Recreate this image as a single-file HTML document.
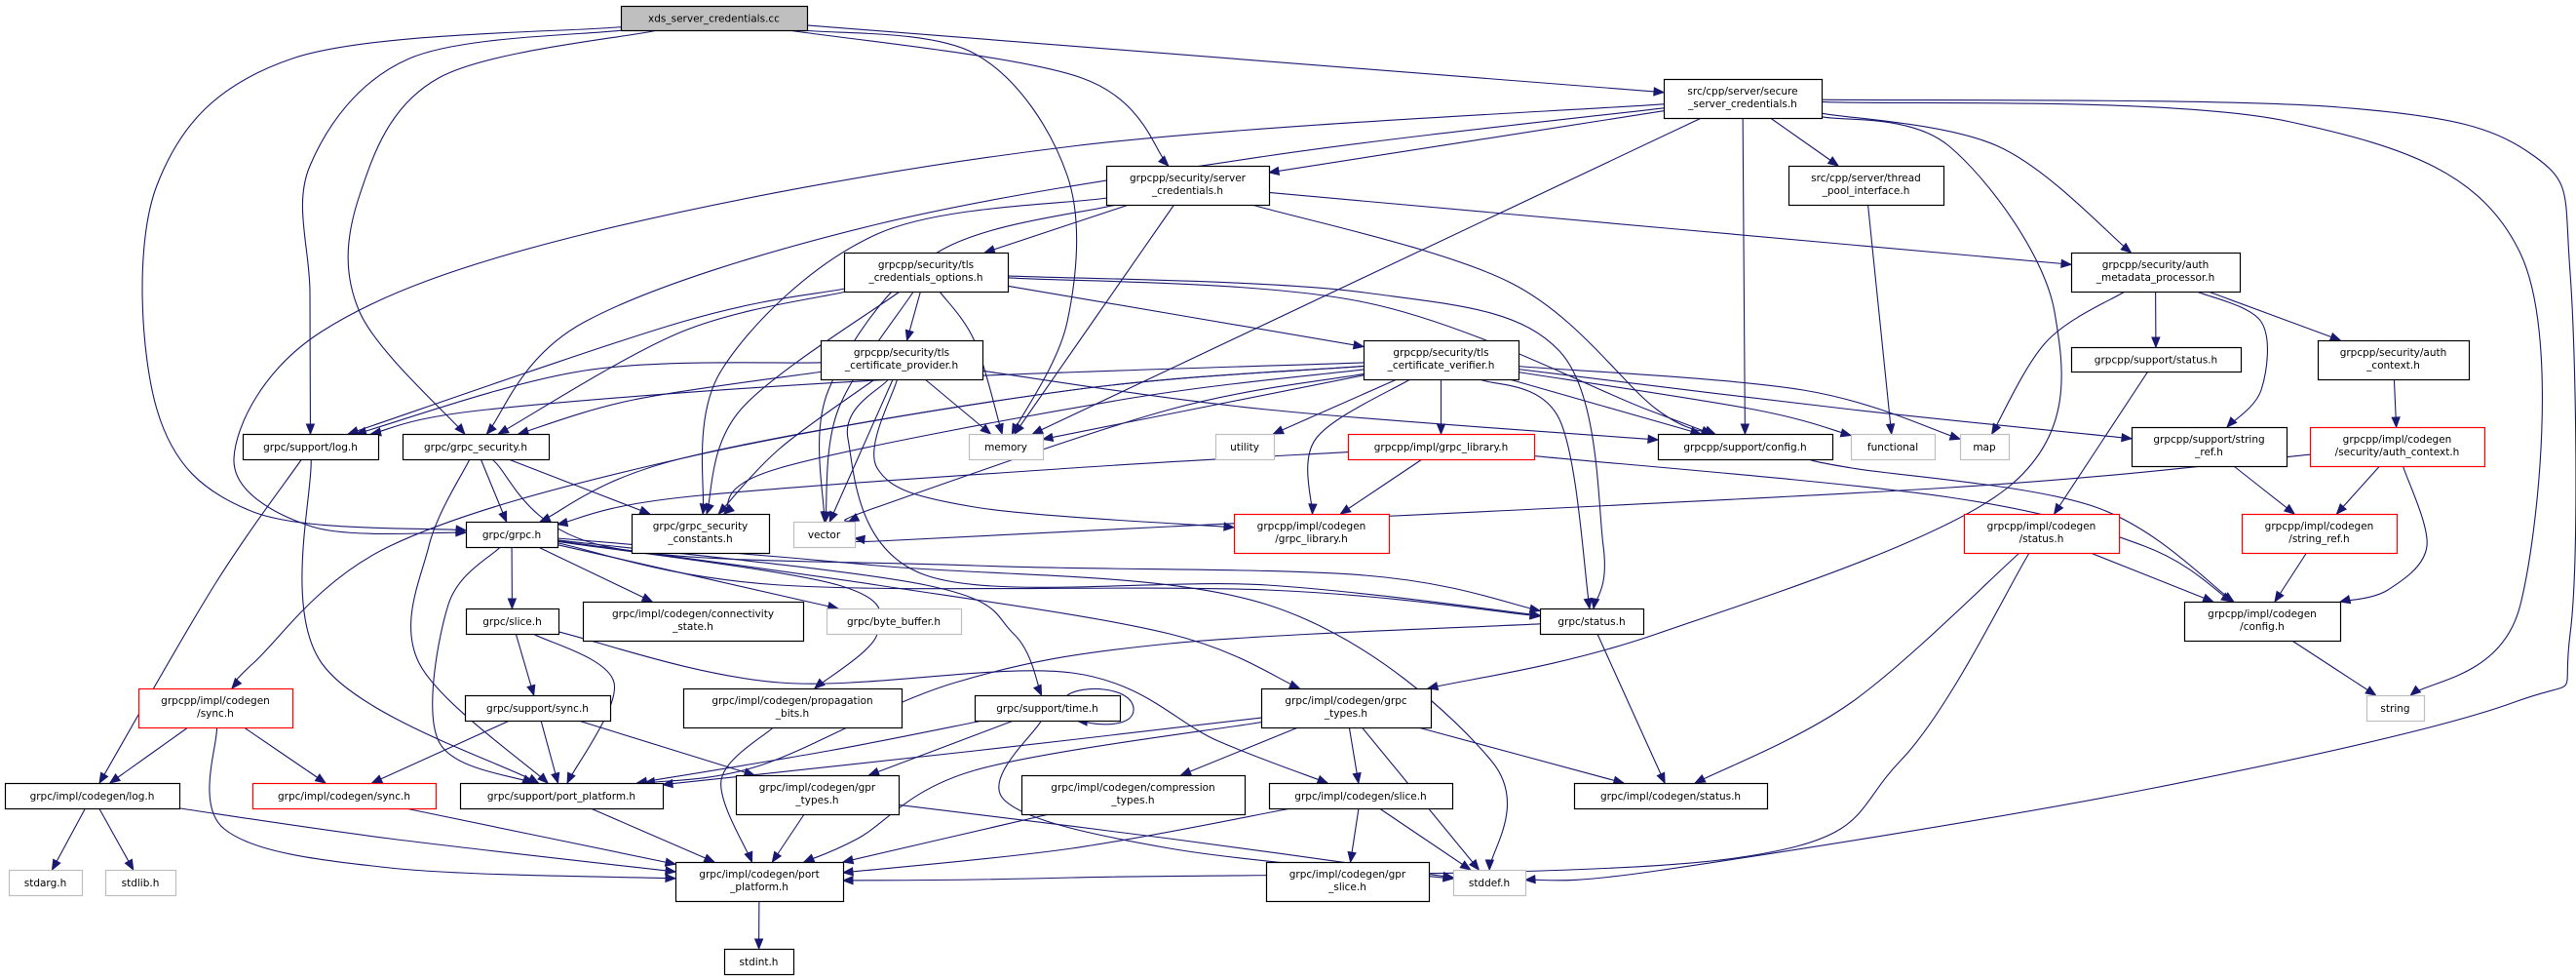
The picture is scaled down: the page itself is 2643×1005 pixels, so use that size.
<!DOCTYPE html>
<html><head><meta charset="utf-8">
<style>
html,body{margin:0;padding:0;background:#fff;}
svg{display:block;}
text{font-family:"DejaVu Sans","Liberation Sans",sans-serif;font-size:10.5px;fill:#000;}
</style></head>
<body>
<svg id="g" width="2643" height="1005" viewBox="0 0 2643 1005" xmlns="http://www.w3.org/2000/svg">
<g id="edges" fill="none" stroke="#191970" stroke-width="1.1"></g>
<g id="arrows" fill="#191970" stroke="#191970"></g>
<g id="nodes"></g>
</svg>
<script>
var N={
xds:[637,6,191,25,["xds_server_credentials.cc"],"s"],
sec:[1707,81,162,40,["src/cpp/server/secure","_server_credentials.h"],"b"],
scr:[1135,170,167,40,["grpcpp/security/server","_credentials.h"],"b"],
thr:[1835,170,159,40,["src/cpp/server/thread","_pool_interface.h"],"b"],
opt:[866,259,168,40,["grpcpp/security/tls","_credentials_options.h"],"b"],
amp:[2125,259,173,40,["grpcpp/security/auth","_metadata_processor.h"],"b"],
prv:[842,349,166,40,["grpcpp/security/tls","_certificate_provider.h"],"b"],
ver:[1399,349,159,40,["grpcpp/security/tls","_certificate_verifier.h"],"b"],
sst:[2125,356,174,25,["grpcpp/support/status.h"],"b"],
actx:[2378,349,155,40,["grpcpp/security/auth","_context.h"],"b"],
log:[249,445,139,26,["grpc/support/log.h"],"b"],
gsec:[413,445,150,26,["grpc/grpc_security.h"],"b"],
mem:[994,445,76,26,["memory"],"g"],
uti:[1247,445,60,26,["utility"],"g"],
glib:[1383,445,191,26,["grpcpp/impl/grpc_library.h"],"r"],
cfg:[1701,445,179,26,["grpcpp/support/config.h"],"b"],
fun:[1899,445,86,26,["functional"],"g"],
map:[2011,445,50,26,["map"],"g"],
sref:[2187,438,159,40,["grpcpp/support/string","_ref.h"],"b"],
cact:[2370,438,179,40,["grpcpp/impl/codegen","/security/auth_context.h"],"r"],
grpc:[478,535,94,26,["grpc/grpc.h"],"b"],
gsc:[648,527,141,40,["grpc/grpc_security","_constants.h"],"b"],
vec:[814,535,63,26,["vector"],"g"],
cglib:[1266,527,159,40,["grpcpp/impl/codegen","/grpc_library.h"],"r"],
cst:[2015,527,159,40,["grpcpp/impl/codegen","/status.h"],"r"],
csr:[2300,527,159,40,["grpcpp/impl/codegen","/string_ref.h"],"r"],
slc:[478,624,95,26,["grpc/slice.h"],"b"],
con:[598,617,226,40,["grpc/impl/codegen/connectivity","_state.h"],"b"],
bb:[848,624,138,26,["grpc/byte_buffer.h"],"g"],
gst:[1580,624,106,26,["grpc/status.h"],"b"],
ccfg:[2241,617,160,40,["grpcpp/impl/codegen","/config.h"],"b"],
csync:[142,706,158,40,["grpcpp/impl/codegen","/sync.h"],"r"],
ssy:[477,713,149,26,["grpc/support/sync.h"],"b"],
prop:[701,706,224,40,["grpc/impl/codegen/propagation","_bits.h"],"b"],
tim:[1000,713,149,26,["grpc/support/time.h"],"b"],
gty:[1294,706,174,40,["grpc/impl/codegen/grpc","_types.h"],"b"],
str:[2428,713,59,26,["string"],"g"],
clog:[5,803,179,26,["grpc/impl/codegen/log.h"],"b"],
gsy:[259,803,188,26,["grpc/impl/codegen/sync.h"],"r"],
spp:[472,803,208,26,["grpc/support/port_platform.h"],"b"],
gpr:[755,795,167,40,["grpc/impl/codegen/gpr","_types.h"],"b"],
cmp:[1048,795,229,40,["grpc/impl/codegen/compression","_types.h"],"b"],
cslc:[1302,803,188,26,["grpc/impl/codegen/slice.h"],"b"],
cstat:[1615,803,198,26,["grpc/impl/codegen/status.h"],"b"],
sta:[9,892,75,26,["stdarg.h"],"g"],
stl:[108,892,72,26,["stdlib.h"],"g"],
cpp:[693,884,172,40,["grpc/impl/codegen/port","_platform.h"],"b"],
gsl:[1299,884,167,40,["grpc/impl/codegen/gpr","_slice.h"],"b"],
sdd:[1491,892,74,26,["stddef.h"],"g"],
sint:[743,973,71,26,["stdint.h"],"b"]
};
var E=[
["xds","sec",[]],["xds","scr",[[1110,80]]],["xds","mem",[[1000,55],[1095,180],[1095,330]]],
["xds","gsec",[[450,80],[369,200],[369,320]]],["xds","log",[[420,60],[318,170],[318,300]]],
["xds","grpc",[[300,60],[161,190],[161,420],[260,525]]],
["sec","scr",[]],["sec","gsec",[[1300,160],[900,230],[600,330]]],
["sec","grpc",[[1100,150],[600,240],[330,340],[240,470],[320,540]]],
["sec","mem",[]],["sec","thr",[]],["sec","cfg",[]],["sec","amp",[[2050,150]]],
["sec","gty",[[2000,150],[2108,320],[2060,500],[1700,650]]],
["sec","str",[[2350,125],[2586,260],[2586,620]]],
["sec","sdd",[[2400,110],[2600,160],[2637,280],[2637,650],[2580,720],[2200,810],[1700,893]]],
["scr","opt",[]],["scr","mem",[]],["scr","gsc",[[900,240],[740,380]]],["scr","vec",[[960,260],[850,400]]],
["scr","cfg",[[1550,290],[1700,420]]],["scr","amp",[]],
["opt","prv",[]],["opt","ver",[]],["opt","mem",[[1000,350]]],["opt","vec",[[860,420]]],
["opt","log",[[700,330]]],["opt","gsec",[[700,340]]],["opt","gsc",[[760,420]]],
["opt","cfg",[[1400,310],[1690,420]]],["opt","gst",[[1400,300],[1600,360],[1645,560]]],
["prv","log",[[600,380]]],["prv","gsec",[[650,410]]],["prv","mem",[]],["prv","vec",[]],
["prv","gsc",[[800,460]]],["prv","cfg",[[1300,420]]],["prv","cglib",[[900,480],[1000,520]]],
["prv","gst",[[870,450],[950,590],[1300,600]]],
["ver","log",[[900,390],[500,420]]],["ver","grpc",[[1100,400],[700,470]]],["ver","mem",[]],["ver","uti",[]],
["ver","glib",[]],["ver","cfg",[]],["ver","fun",[[1800,420]]],["ver","map",[[1850,400]]],["ver","sref",[[1900,420]]],
["ver","gst",[[1600,430]]],["ver","vec",[[1200,420],[900,520]]],["ver","gsc",[[1150,410],[800,480]]],
["ver","cglib",[[1350,450]]],["ver","csync",[[1100,400],[700,470],[400,560],[260,680]]],
["amp","map",[[2100,350]]],["amp","sst",[]],["amp","sref",[[2320,330],[2320,400]]],["amp","actx",[]],
["sst","cst",[]],["actx","cact",[]],
["cact","vec",[[2000,500],[1200,540],[900,555]]],["cact","csr",[]],["cact","ccfg",[[2490,560],[2450,605]]],
["sref","csr",[]],["cfg","ccfg",[[1900,480],[2150,520]]],
["glib","grpc",[[1100,480],[700,510]]],["glib","cglib",[]],["glib","ccfg",[[2000,510],[2200,560]]],
["thr","fun",[]],
["cst","cstat",[[1900,720]]],["cst","ccfg",[]],["cst","cpp",[[1950,780],[1780,880],[1100,900]]],
["csr","ccfg",[]],["ccfg","str",[]],
["log","clog",[[220,600]]],["log","spp",[[330,680]]],
["gsec","grpc",[]],["gsec","gsc",[]],["gsec","spp",[[440,560],[430,680]]],["gsec","gst",[[620,560],[1000,580],[1400,590]]],
["grpc","slc",[]],["grpc","con",[]],["grpc","bb",[]],["grpc","prop",[[860,600],[900,650]]],
["grpc","tim",[[950,600],[1040,650]]],["grpc","gty",[[900,600],[1200,650]]],
["grpc","gst",[[800,600],[1300,605]]],["grpc","spp",[[460,620],[450,760]]],["grpc","sdd",[[900,580],[1300,620],[1530,780]]],
["slc","ssy",[]],["slc","spp",[[630,700]]],["slc","cslc",[[800,700],[1100,690],[1250,760]]],
["csync","clog",[]],["csync","gsy",[]],["csync","cpp",[[230,850],[400,890]]],
["ssy","gsy",[]],["ssy","spp",[]],["ssy","gpr",[]],
["prop","cpp",[[740,800]]],
["tim","spp",[[850,770]]],["tim","gpr",[]],["tim","sdd",[[1030,820],[1200,870]]],
["gty","spp",[[1000,770]]],["gty","cmp",[]],["gty","cslc",[]],["gty","cstat",[]],["gty","sdd",[]],
["gty","cpp",[[1000,790],[880,860]]],
["gst","spp",[[1200,660],[980,700],[780,785]]],["gst","cstat",[]],
["clog","sta",[]],["clog","stl",[]],["clog","cpp",[[400,860]]],
["gsy","cpp",[]],["spp","cpp",[]],["gpr","cpp",[]],["gpr","sdd",[[1200,860]]],["cmp","cpp",[]],
["cslc","gsl",[]],["cslc","sdd",[]],["cslc","cpp",[[1100,870]]],["cpp","sint",[]]
];
var ns="http://www.w3.org/2000/svg";
function c(n){return [n[0]+n[2]/2,n[1]+n[3]/2];}
function clip(n,p){var ce=c(n),dx=p[0]-ce[0],dy=p[1]-ce[1];if(!dx&&!dy)return ce;
var tx=dx?(n[2]/2)/Math.abs(dx):1e9,ty=dy?(n[3]/2)/Math.abs(dy):1e9,t=Math.min(tx,ty);return [ce[0]+dx*t,ce[1]+dy*t];}
var eg=document.getElementById("edges"),ag=document.getElementById("arrows"),ng=document.getElementById("nodes");
E.forEach(function(e){var a=N[e[0]],b=N[e[1]],w=e[2];
var first=w.length?w[0]:c(b),last=w.length?w[w.length-1]:c(a);
var s=clip(a,first),t=clip(b,last);
var pts=[s].concat(w,[t]);
var d="M"+s[0]+","+s[1];var tang;
for(var i=0;i<pts.length-1;i++){var p0=pts[i-1]||pts[i],p1=pts[i],p2=pts[i+1],p3=pts[i+2]||p2;
var c1=[p1[0]+(p2[0]-p0[0])/6,p1[1]+(p2[1]-p0[1])/6],c2=[p2[0]-(p3[0]-p1[0])/6,p2[1]-(p3[1]-p1[1])/6];
if(i==pts.length-2){tang=c2;}
d+=" C"+c1[0]+","+c1[1]+" "+c2[0]+","+c2[1]+" "+p2[0]+","+p2[1];}
var dx=t[0]-tang[0],dy=t[1]-tang[1],L=Math.hypot(dx,dy)||1;dx/=L;dy/=L;
var bx=t[0]-dx*10,by=t[1]-dy*10;
var p=document.createElementNS(ns,"path");p.setAttribute("d",d);eg.appendChild(p);
var pg=document.createElementNS(ns,"polygon");
pg.setAttribute("points",t[0]+","+t[1]+" "+(bx-dy*4)+","+(by+dx*4)+" "+(bx+dy*4)+","+(by-dx*4));ag.appendChild(pg);
});
var lp=document.createElementNS(ns,"path");lp.setAttribute("d","M1095,713 C1110,702 1160,704 1163,726 C1165,745 1130,745 1112,740");eg.appendChild(lp);
var pg2=document.createElementNS(ns,"polygon");pg2.setAttribute("points","1105,739 1115,735 1115,744");ag.appendChild(pg2);
for(var k in N){var n=N[k];
var r=document.createElementNS(ns,"rect");r.setAttribute("x",n[0]+0.5);r.setAttribute("y",n[1]+0.5);r.setAttribute("width",n[2]);r.setAttribute("height",n[3]);
var st=n[5];r.setAttribute("fill",st=="s"?"#bfbfbf":"#fff");r.setAttribute("stroke",st=="g"?"#bfbfbf":st=="r"?"#ff0000":"#000");r.setAttribute("stroke-width","1.2");ng.appendChild(r);
var L=n[4];L.forEach(function(s,i){var tx=document.createElementNS(ns,"text");tx.setAttribute("x",n[0]+n[2]/2);tx.setAttribute("text-anchor","middle");
var y=L.length==1?n[1]+n[3]/2+4:n[1]+16+i*13;tx.setAttribute("y",y);tx.textContent=s;ng.appendChild(tx);});}
</script>
</body></html>
